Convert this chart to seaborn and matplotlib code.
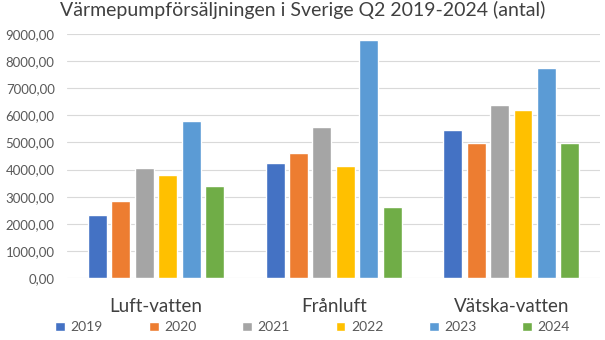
import matplotlib
matplotlib.use("Agg")
import matplotlib.pyplot as plt
import seaborn as sns
import pandas as pd
from matplotlib.ticker import FuncFormatter, MultipleLocator
from matplotlib.patches import Patch

categories = ["Luft-vatten", "Frånluft", "Vätska-vatten"]
years = ["2019", "2020", "2021", "2022", "2023", "2024"]
values = {
    "2019": [2340, 4260, 5470],
    "2020": [2860, 4600, 4980],
    "2021": [4070, 5570, 6370],
    "2022": [3820, 4150, 6190],
    "2023": [5780, 8780, 7750],
    "2024": [3410, 2640, 4990],
}
colors = ["#4472C4", "#ED7D31", "#A5A5A5", "#FFC000", "#5B9BD5", "#70AD47"]
title = "Värmepumpförsäljningen i Sverige Q2 2019-2024 (antal)"

rows = []
for y in years:
    for c, v in zip(categories, values[y]):
        rows.append({"Kategori": c, "År": y, "Antal": v})
df = pd.DataFrame(rows)

sns.set_style("white")
plt.rcParams["font.family"] = ["Lato", "DejaVu Sans"]

fig = plt.figure(figsize=(6.05, 3.4), dpi=100)
ax = fig.add_axes([0.111, 0.182, 0.881, 0.718])

sns.barplot(data=df, x="Kategori", y="Antal", hue="År", order=categories,
            hue_order=years, palette=colors, width=0.79, gap=0.19,
            saturation=1, ax=ax, legend=False)

ax.set_ylim(0, 9000)
ax.set_xlim(-0.5, 2.5)
ax.yaxis.set_major_locator(MultipleLocator(1000))
ax.yaxis.set_major_formatter(FuncFormatter(lambda v, p: f"{v:.2f}".replace(".", ",")))
ax.grid(axis="y", color="#D9D9D9", linewidth=0.8)
ax.set_axisbelow(True)
for s in ax.spines.values():
    s.set_visible(False)
ax.tick_params(axis="y", length=0, labelsize=9.5, labelcolor="#595959", pad=9)
ax.tick_params(axis="x", length=0, labelsize=13.5, labelcolor="#404040", pad=14)
ax.set_xlabel("")
ax.set_ylabel("")

fig.text(0.5, 0.997, title, ha="center", va="top", fontsize=14, color="#404040")

handles = [Patch(facecolor=c, label=y) for c, y in zip(colors, years)]
fig.legend(handles=handles, loc="center", bbox_to_anchor=(0.517, 0.037), ncol=6,
           frameon=False, fontsize=10, handlelength=0.7, handleheight=0.7,
           handletextpad=0.4, columnspacing=3.3, labelcolor="#595959")

fig.savefig("out.png", dpi=100)
